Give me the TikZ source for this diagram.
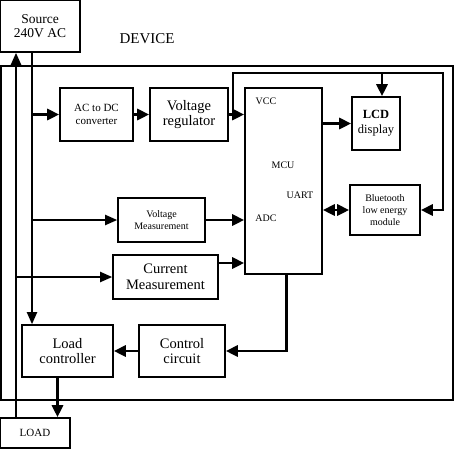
\documentclass[tikz,border=0pt]{standalone}
\usepackage{fontspec}
\setmainfont{Liberation Serif}
\usepackage{tikz}
\usetikzlibrary{arrows.meta}
\tikzset{
  block/.style={draw, line width=1.6pt, align=center, inner sep=1pt, font=\fontsize{14.5}{15.5}\selectfont},
  smallblock/.style={block, font=\fontsize{11}{12.5}\selectfont},
  bus/.style={-{Triangle[length=12pt,width=11pt]}, line width=2.8pt},
  wire/.style={-{Triangle[length=12pt,width=10pt]}, line width=2pt},
  pin/.style={font=\fontsize{10}{11}\selectfont, inner sep=0pt}
}

\begin{document}
\begin{tikzpicture}[x=1pt, y=-1pt]
  \useasboundingbox (0,0) rectangle (455,448);
  \draw[line width=1.8pt] (1,66) rectangle (453,400);
  \node[font=\fontsize{15}{16}\selectfont] (devlbl) at (147,39) {DEVICE};

  \node[block, minimum width=80, minimum height=52, font=\fontsize{13.5}{14}\selectfont, fill=white] (src) at (40,26) {Source\\240V AC};
  \node[smallblock, minimum width=73, minimum height=53] (acdc) at (96.5,114.5) {AC to DC\\converter};
  \node[block, minimum width=78, minimum height=53] (vreg) at (189,114.5) {Voltage\\regulator};
  \node[block, minimum width=77, minimum height=186] (mcu) at (283.5,181) {};
  \node[pin] (vcc) at (266,101) {VCC};
  \node[pin] (mcul) at (283,165) {MCU};
  \node[pin] (uart) at (300,195) {UART};
  \node[pin] (adc) at (266,218) {ADC};
  \node[block, minimum width=48, minimum height=53, font=\fontsize{12.5}{15}\selectfont] (lcd) at (376,123.5) {\textbf{LCD}\\display};
  \node[smallblock, minimum width=70, minimum height=50, font=\fontsize{10}{12}\selectfont] (ble) at (385,210) {Bluetooth\\low energy\\module};
  \node[smallblock, minimum width=87, minimum height=44, font=\fontsize{10}{12}\selectfont] (vmeas) at (161.5,220) {Voltage\\Measurement};
  \node[block, minimum width=105, minimum height=44] (cmeas) at (165.5,277) {Current\\Measurement};
  \node[block, minimum width=86, minimum height=52] (ctrl) at (182,351) {Control\\circuit};
  \node[block, minimum width=91, minimum height=52] (lctl) at (67.5,351) {Load\\controller};
  \node[smallblock, minimum width=70, minimum height=30] (load) at (35,433) {LOAD};

  \coordinate (ret) at (16,0);
  \coordinate (feed) at (32,0);
  \coordinate (jn) at (233,114.5);
  \coordinate (ne) at (443,73);

  \draw[wire] (load.north -| ret) -- (ret |- src.south);
  \draw[wire] (src.south -| feed) -- (feed |- lctl.north);
  \draw[bus] (feed |- acdc) -- (acdc.west);
  \draw[wire] (feed |- vmeas) -- (vmeas.west);
  \draw[wire] (ret |- cmeas) -- (cmeas.west);
  \draw[bus] (acdc) -- (vreg);
  \draw[bus] (vreg.east) -- (vreg.east -| mcu.west);
  \draw[bus] (jn) |- (ne) |- (ble.east);
  \draw[bus] ([xshift=6]lcd.north |- ne) -- ([xshift=6]lcd.north);
  \draw[bus] (mcu.east |- lcd) -- (lcd.west);
  \draw[bus, {Triangle[length=12pt,width=11pt]}-{Triangle[length=12pt,width=11pt]}] (mcu.east |- ble) -- (ble.west);
  \draw[bus] (vmeas.east) -- (vmeas.east -| mcu.west);
  \draw[bus] ([yshift=14]cmeas.east) -- ([yshift=14]cmeas.east -| mcu.west);
  \draw[bus] ([xshift=3]mcu.south) |- (ctrl.east);
  \draw[bus] (ctrl.west) -- (lctl.east);
  \draw[bus] ([xshift=-10]lctl.south) -- ([xshift=-10]lctl.south |- load.north);
\end{tikzpicture}
\end{document}
